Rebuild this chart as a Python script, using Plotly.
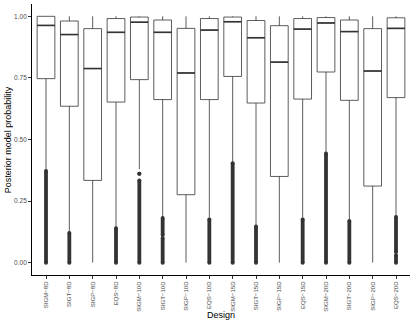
import plotly.graph_objects as go

designs = ["SIGM−8D", "SIGT−8D", "SIGP−8D", "EQS−8D",
           "SIGM−10D", "SIGT−10D", "SIGP−10D", "EQS−10D",
           "SIGM−15D", "SIGT−15D", "SIGP−15D", "EQS−15D",
           "SIGM−20D", "SIGT−20D", "SIGP−20D", "EQS−20D"]

q1 = [0.747, 0.635, 0.334, 0.652, 0.743, 0.662, 0.276, 0.662,
      0.756, 0.648, 0.350, 0.664, 0.774, 0.659, 0.311, 0.670]
median = [0.963, 0.926, 0.788, 0.935, 0.976, 0.935, 0.770, 0.944,
          0.978, 0.913, 0.814, 0.948, 0.973, 0.938, 0.778, 0.951]
q3 = [1.000, 0.981, 0.950, 0.991, 0.997, 0.985, 0.951, 0.991,
      0.997, 0.983, 0.962, 0.991, 0.995, 0.985, 0.950, 0.994]
upper_whisker = [1.0] * 16
lower_whisker = [0.372, 0.122, 0.0, 0.142, 0.380, 0.183, 0.0, 0.177,
                 0.406, 0.149, 0.0, 0.177, 0.445, 0.171, 0.0, 0.187]

# outliers are so dense they read as solid runs: (low, high) per run
outlier_runs = [
    [(0.0, 0.372)],
    [(0.0, 0.120)],
    [],
    [(0.0, 0.140)],
    [(0.0, 0.334), (0.361, 0.361)],
    [(0.0, 0.100), (0.112, 0.181)],
    [],
    [(0.0, 0.175)],
    [(0.0, 0.404)],
    [(0.0, 0.147)],
    [],
    [(0.0, 0.175)],
    [(0.0, 0.443)],
    [(0.0, 0.169)],
    [],
    [(0.0, 0.030), (0.043, 0.185)],
]

y_ticks = [0, 0.25, 0.5, 0.75, 1.0]

FONT = "Liberation Sans, Arial, sans-serif"
INK = "#333333"
BOX_W = 0.76

pos = list(range(len(designs)))

fig = go.Figure()

fig.add_trace(go.Box(
    x=pos, q1=q1, median=median, q3=q3,
    lowerfence=lower_whisker, upperfence=upper_whisker,
    width=BOX_W, whiskerwidth=0, boxpoints=False,
    fillcolor="white", line=dict(color=INK, width=0.8),
    showlegend=False, hoverinfo="skip",
))

# thicker median bars, as ggplot draws them
mx, my = [], []
for p, m in zip(pos, median):
    mx += [p - BOX_W / 2, p + BOX_W / 2, None]
    my += [m, m, None]
fig.add_trace(go.Scatter(x=mx, y=my, mode="lines",
                         line=dict(color=INK, width=1.6),
                         showlegend=False, hoverinfo="skip"))

ox, oy = [], []
for p, runs in zip(pos, outlier_runs):
    for lo, hi in runs:
        ox += [p, p, None]
        oy += [lo, hi, None]
fig.add_trace(go.Scatter(x=ox, y=oy, mode="lines+markers",
                         line=dict(color=INK, width=3.8),
                         marker=dict(color=INK, size=4),
                         showlegend=False, hoverinfo="skip"))

fig.update_layout(
    width=415, height=323,
    margin=dict(l=32, r=5, t=4, b=48),
    plot_bgcolor="white", paper_bgcolor="white",
    font=dict(family=FONT, color="black"),
    annotations=[
        dict(text="Design", xref="paper", yref="paper", x=0.5, y=-0.147,
             xanchor="center", yanchor="middle", showarrow=False,
             font=dict(size=9)),
        dict(text="Posterior model probability", xref="paper", yref="paper",
             x=-0.064, y=0.5, xanchor="center", yanchor="middle",
             textangle=-90, showarrow=False, font=dict(size=9)),
    ],
)
fig.update_xaxes(
    range=[-0.6, len(designs) - 0.4],
    tickvals=pos, ticktext=designs, tickangle=-90,
    tickfont=dict(size=6.1, color="#4d4d4d"),
    ticks="outside", ticklen=3, tickcolor=INK, tickwidth=0.8,
    showline=True, linecolor="black", linewidth=0.9,
    showgrid=False, zeroline=False, automargin=False,
)
fig.update_yaxes(
    range=[-0.05, 1.05],
    tickvals=y_ticks, ticktext=[f"{v:.2f}" for v in y_ticks],
    tickfont=dict(size=6.5, color="#4d4d4d"),
    ticks="outside", ticklen=3, tickcolor=INK, tickwidth=0.8,
    showline=True, linecolor="black", linewidth=0.9,
    showgrid=False, zeroline=False, automargin=False,
)

# the page's default body margin would push the figure off the window
fig.write_html("out.html", config={"displayModeBar": False},
               post_script="document.body.style.margin='0';")
